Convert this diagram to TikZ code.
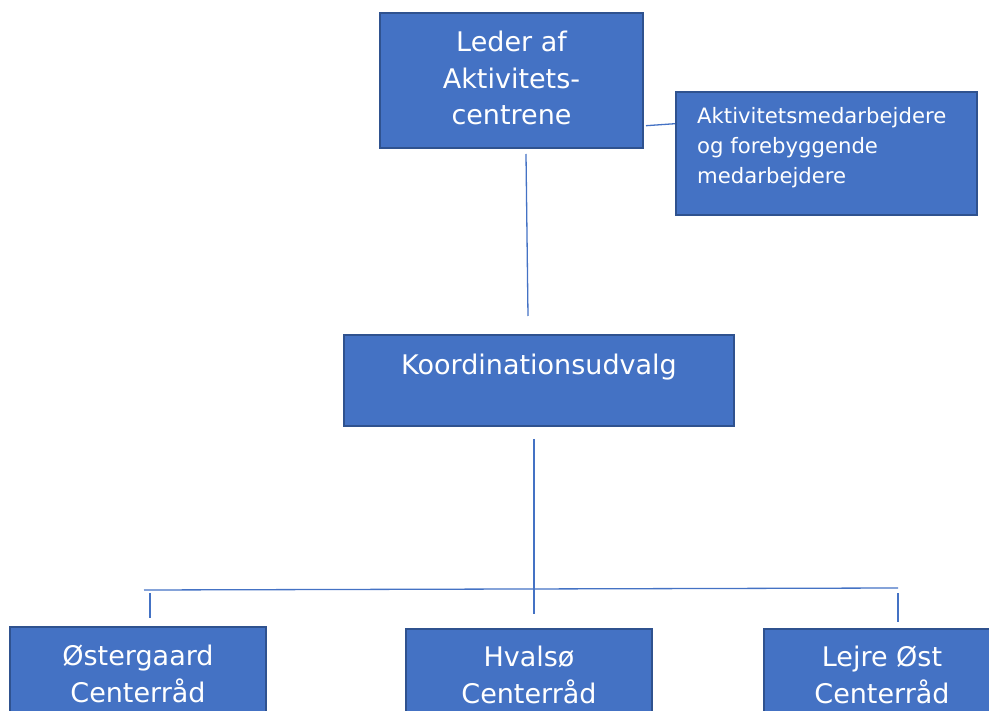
\documentclass[tikz,border=0pt]{standalone}
\usepackage{fontspec}
\setmainfont{DejaVu Sans}
\definecolor{boxfill}{HTML}{4472C4}
\definecolor{boxline}{HTML}{2F528F}
\definecolor{conn}{HTML}{4472C4}
\begin{document}
\begin{tikzpicture}[x=1pt,y=-1pt,
  box/.style={draw=boxline,fill=boxfill,line width=2pt,inner sep=0pt},
  big/.style={text=white,font=\fontsize{27}{36.7}\selectfont,align=center,inner sep=0pt},
  small/.style={text=white,font=\fontsize{21.2}{30}\selectfont,align=left,inner sep=0pt},
  conn/.style={draw=conn,line width=1.3pt}]
\useasboundingbox (0,0) rectangle (989,711);
\begin{scope}
\clip (0,0) rectangle (989,711);
% boxes
\node[box,minimum width=263pt,minimum height=135pt,anchor=north west] (leder) at (379,12) {};
\node[box,minimum width=301pt,minimum height=123pt,anchor=north west] (medarb) at (675,91) {};
\node[box,minimum width=390pt,minimum height=91pt,anchor=north west] (koord) at (343,334) {};
\node[box,minimum width=256pt,minimum height=110pt,anchor=north west] (oster) at (9,626) {};
\node[box,minimum width=246pt,minimum height=110pt,anchor=north west] (hvalso) at (405,628) {};
\node[box,minimum width=238pt,minimum height=110pt,anchor=north west] (lejre) at (763,628) {};
% texts (anchor=base is the baseline of the last line)
\node[big,anchor=base] (tleder) at (leder.north |- 0,125) {Leder af\\Aktivitets-\\centrene};
\node[small,anchor=base west] (tmedarb) at (697,184) {Aktivitetsmedarbejdere\\og forebyggende\\medarbejdere};
\node[big,anchor=base] (tkoord) at (koord.north |- 0,375) {Koordinationsudvalg};
\node[big,anchor=base] (toster) at (oster.north |- 0,702) {Østergaard\\Centerråd};
\node[big,anchor=base] (thvalso) at (hvalso.north |- 0,703) {Hvalsø\\Centerråd};
\node[big,anchor=base] (tlejre) at (882,703) {Lejre Øst\\Centerråd};
\end{scope}
% connector end points
\coordinate (a1) at (646,125.7);
\coordinate (a2) at (675,123.7);
\coordinate (b1) at (526,154);
\coordinate (b2) at (528,316);
\coordinate (c1) at (534,439);
\coordinate (c2) at (534,614);
\coordinate (h1) at (144,590);
\coordinate (h2) at (898,588);
\coordinate (d1) at (150,593);
\coordinate (d2) at (150,618);
\coordinate (e1) at (898,593);
\coordinate (e2) at (898,622);
\draw[conn] (a1) -- (a2);
\draw[conn] (b1) -- (b2);
\draw[conn] (c1) -- (c2);
\draw[conn] (h1) -- (h2);
\draw[conn] (d1) -- (d2);
\draw[conn] (e1) -- (e2);
\end{tikzpicture}
\end{document}
